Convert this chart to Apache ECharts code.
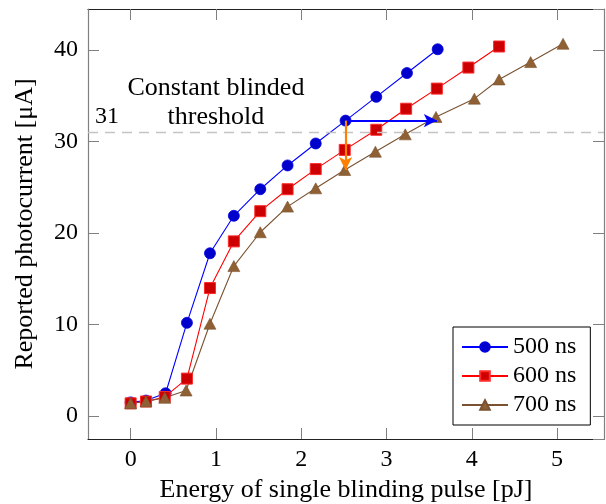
<!DOCTYPE html>
<html>
<head>
<meta charset="utf-8">
<script src="https://cdn.jsdelivr.net/npm/echarts@6/dist/echarts.min.js"></script>
<style>html,body{margin:0;padding:0;background:#fff;}#c{width:606px;height:504px;}</style>
</head>
<body>
<div id="c"></div>
<script>
// ---- data ----
const blueX = [0, 0.18, 0.41, 0.66, 0.93, 1.21, 1.52, 1.84, 2.17, 2.52, 2.88, 3.24, 3.60];
const blueY = [1.5, 1.7, 2.5, 10.2, 17.8, 21.9, 24.8, 27.4, 29.8, 32.3, 34.9, 37.5, 40.1];
const redX = [0, 0.18, 0.40, 0.66, 0.93, 1.21, 1.52, 1.84, 2.17, 2.51, 2.88, 3.23, 3.59, 3.96, 4.32];
const redY = [1.4, 1.6, 2.1, 4.1, 14.0, 19.1, 22.4, 24.8, 27.0, 29.1, 31.3, 33.6, 35.8, 38.1, 40.4];
const brownX = [0, 0.18, 0.40, 0.65, 0.93, 1.21, 1.52, 1.84, 2.17, 2.51, 2.87, 3.22, 3.58, 4.03, 4.32, 4.69, 5.07];
const brownY = [1.4, 1.6, 2.0, 2.8, 10.1, 16.4, 20.1, 22.9, 24.9, 26.9, 28.9, 30.8, 32.7, 34.7, 36.8, 38.7, 40.7];
const seriesNames = ['500 ns', '600 ns', '700 ns'];
const threshold = 31;
const thresholdLabel = '31';
const annotText = 'Constant blinded\nthreshold';
const annotAt = [1.0, 34.3];
const arrowStart = [2.52, 32.3];
const arrowRightEnd = [3.59, 32.3];
const arrowDownEnd = [2.52, 26.9];
const xTitle = 'Energy of single blinding pulse [pJ]';
const yTitle = 'Reported photocurrent [μA]';

const zip = (xs, ys) => xs.map((x, i) => [x, ys[i]]);
const FONT = 'Liberation Serif';

const chart = echarts.init(document.getElementById('c'), null, {renderer: 'canvas'});

const xRange = {min: -0.5, max: 5.55};
const yRange = {min: -2.5, max: 44.5};
const tickStyle = {show: true, inside: true, length: 11, lineStyle: {color: '#808080', width: 1}};
const intLabel = step => v => (Math.abs(v / step - Math.round(v / step)) < 1e-6 ? String(Math.round(v)) : '');

const option = {
  animation: false,
  backgroundColor: '#fff',
  grid: {left: 88, right: 2, top: 9, bottom: 65, outerBoundsMode: 'none'},
  xAxis: [
    {type: 'value', position: 'bottom', min: xRange.min, max: xRange.max,
     axisLine: {onZero: false, lineStyle: {color: '#222', width: 1.2}},
     axisTick: tickStyle, splitLine: {show: false},
     axisLabel: {color: '#000', fontFamily: FONT, fontSize: 24, margin: 9, formatter: intLabel(1), showMinLabel: false, showMaxLabel: false},
     name: xTitle, nameLocation: 'middle', nameGap: 38,
     nameTextStyle: {color: '#000', fontFamily: FONT, fontSize: 26}},
    {type: 'value', position: 'top', min: xRange.min, max: xRange.max,
     axisLine: {onZero: false, lineStyle: {color: '#222', width: 1.2}},
     axisTick: tickStyle, splitLine: {show: false}, axisLabel: {show: false}}
  ],
  yAxis: [
    {type: 'value', position: 'left', min: yRange.min, max: yRange.max,
     axisLine: {show: true, onZero: false, lineStyle: {color: '#808080', width: 1.2}},
     axisTick: tickStyle, splitLine: {show: false},
     axisLabel: {color: '#000', fontFamily: FONT, fontSize: 24, margin: 10, formatter: intLabel(10), showMinLabel: false, showMaxLabel: false},
     name: yTitle, nameLocation: 'middle', nameGap: 50,
     nameTextStyle: {color: '#000', fontFamily: FONT, fontSize: 26}},
    {type: 'value', position: 'right', min: yRange.min, max: yRange.max,
     axisLine: {show: true, onZero: false, lineStyle: {color: '#808080', width: 1.2}},
     axisTick: tickStyle, splitLine: {show: false}, axisLabel: {show: false}}
  ],
  legend: {
    orient: 'vertical', left: 453, top: 327,
    data: seriesNames,
    backgroundColor: '#fff', borderColor: '#000', borderWidth: 1,
    padding: [8, 14, 8, 8], itemWidth: 46, itemHeight: 12, itemGap: 5,
    textStyle: {color: '#000', fontFamily: FONT, fontSize: 24, lineHeight: 24}
  },
  series: [
    {name: seriesNames[0], type: 'line', data: zip(blueX, blueY),
     symbol: 'circle', symbolSize: 11,
     lineStyle: {color: '#0000ff', width: 1.1},
     itemStyle: {color: '#0000cc', borderColor: '#0000e0', borderWidth: 0.8}},
    {name: seriesNames[1], type: 'line', data: zip(redX, redY),
     symbol: 'rect', symbolSize: 11,
     lineStyle: {color: '#ff0000', width: 1.1},
     itemStyle: {color: '#cc0000', borderColor: '#ff2a2a', borderWidth: 1}},
    {name: seriesNames[2], type: 'line', data: zip(brownX, brownY),
     symbol: 'triangle', symbolSize: [12, 11],
     lineStyle: {color: '#7a5230', width: 1.1},
     itemStyle: {color: '#8f6033', borderColor: '#7a5230', borderWidth: 0.6},
     markLine: {
       silent: true, animation: false, symbol: 'none',
       data: [
         {yAxis: threshold, symbol: 'none',
          lineStyle: {type: [10, 7], color: '#c4c4c4', width: 1.4},
          label: {show: true, formatter: thresholdLabel, position: 'insideStartTop', distance: [7, 4],
                  color: '#000', fontFamily: FONT, fontSize: 24}},
         [{coord: arrowStart, symbol: 'none', lineStyle: {color: '#0000ff', width: 2.2, type: 'solid'}, label: {show: false}},
          {coord: arrowRightEnd, symbol: 'arrow', symbolSize: [10, 13]}],
         [{coord: arrowStart, symbol: 'none', lineStyle: {color: '#ff8000', width: 2.2, type: 'solid'}, label: {show: false}},
          {coord: arrowDownEnd, symbol: 'arrow', symbolSize: [10, 13]}]
       ]
     },
     markPoint: {
       silent: true, animation: false, symbol: 'circle', symbolSize: 0,
       data: [{coord: annotAt, value: 0,
               label: {show: true, position: 'inside', formatter: annotText, color: '#000',
                       fontFamily: FONT, fontSize: 26, lineHeight: 29, align: 'center'}}]
     }}
  ]
};
chart.setOption(option);
</script>
</body>
</html>
